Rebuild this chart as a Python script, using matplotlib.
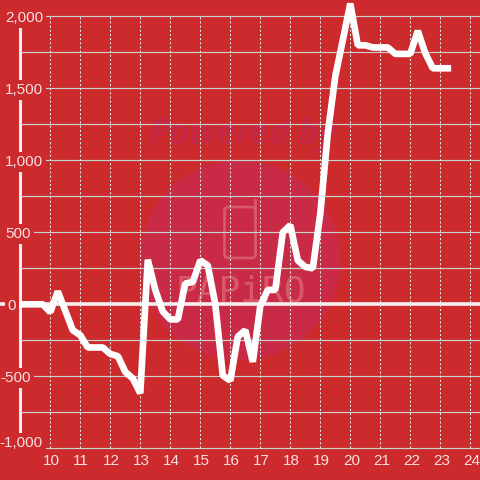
import matplotlib
matplotlib.use("Agg")
import matplotlib.pyplot as plt
from matplotlib.patches import Circle, FancyBboxPatch
from matplotlib.transforms import Affine2D

hours_start = 9.0
step = 0.25
values = [0, 0, 0, 0, -55, 90, -45, -180, -215, -300, -300, -300, -345, -360, -470,
          -515, -618, 310, 100, -50, -105, -105, 145, 155, 305, 270, 0, -495, -530,
          -225, -180, -400, -10, 100, 100, 500, 550, 305, 260, 250, 630, 1190, 1585,
          1835, 2090, 1800, 1800, 1785, 1785, 1785, 1740, 1740, 1740, 1900, 1745,
          1640, 1640, 1640]
hours = [hours_start + i * step for i in range(len(values))]
x_ticks = list(range(10, 25))
y_ticks = [-1000, -500, 0, 500, 1000, 1500, 2000]
y_minor = [-750, -250, 250, 750, 1250, 1750]
y_right = {-1000: 43, -500: 31, 0: 16, 500: 31, 1000: 43, 1500: 43, 2000: 43}
y_shift = {-1000: 45}

BG = "#cc2a2d"
GRID = "#c8d2cc"
VGRID = "#e6eee8"
TXT = "#f8e0e0"
WM = "#d85a68"
FONT = "Liberation Sans"
W = 480


def px_x(p):
    return hours_start + (p - 20.3) / 30.0


fig = plt.figure(figsize=(4.8, 4.8), dpi=100, facecolor=BG)
ax = fig.add_axes([0, 0, 1, 1], facecolor=BG)
ax.set_xlim(px_x(0), px_x(480))
ax.set_ylim(-1000 - (480 - 448.2) / 0.144, 2000 + 16.5 / 0.144)
ax.axis("off")


def P(x, y):
    return x, 480 - y


tr = Affine2D().scale(1 / 480, 1 / 480) + fig.transFigure
ax.add_patch(Circle(P(240, 260), 100, transform=tr, fc="#c92a46", ec="none", zorder=0))
ax.text(*P(243, 135), "Powered by", transform=tr, ha="center", va="center", family="Open Sans",
        weight="bold", style="italic", fontsize=25, color="#c62945", zorder=0.5)
ax.add_patch(FancyBboxPatch(P(224.5, 258), 31, 51, boxstyle="round,pad=0,rounding_size=4", transform=tr,
                            fc="none", ec=WM, lw=2.0, zorder=0.5))
ax.plot([P(255, 208)[0], P(255, 200)[0]], [P(255, 208)[1], P(255, 200)[1]], transform=tr,
        color=WM, lw=2.0, zorder=0.5)
ax.text(*P(241, 292), "PAPiRO", transform=tr, ha="center", va="center", family="DejaVu Sans Mono",
        fontsize=26, color=WM, zorder=0.5)

# Grid
for v in y_minor + y_ticks:
    if v != 0:
        ax.axhline(v, color=GRID, lw=0.85, zorder=1, xmin=20.3 / W)
for t in x_ticks:
    ax.plot([t, t], [-1000, 2000], color=VGRID, lw=0.75, ls=(0, (2.0, 2.0)), zorder=1)

# Axes lines
ax.axhline(0, color="#f5f0f0", lw=2.6, zorder=2)
ax.plot([9, 9], [-1000, 2000], color="#f0f0f0", lw=2.2, zorder=2, solid_capstyle="butt")

# Series
ax.plot(hours, values, color="white", lw=4.8, zorder=3, solid_joinstyle="bevel",
        solid_capstyle="projecting")

# Labels
for v in y_ticks:
    ax.text(px_x(y_right[v]), v + y_shift.get(v, 0), f"{v:,}", ha="right", va="center_baseline",
            family=FONT, fontsize=11, color=TXT, zorder=4,
            bbox=dict(fc=BG, ec="none", boxstyle="square,pad=0.18"))
for t in x_ticks:
    ax.text(t + 1 / 30, -1000 - 13 / 0.144, str(t), ha="center", va="center", family=FONT,
            fontsize=11, color=TXT, zorder=4)

fig.savefig("out.png", dpi=100, facecolor=BG)
